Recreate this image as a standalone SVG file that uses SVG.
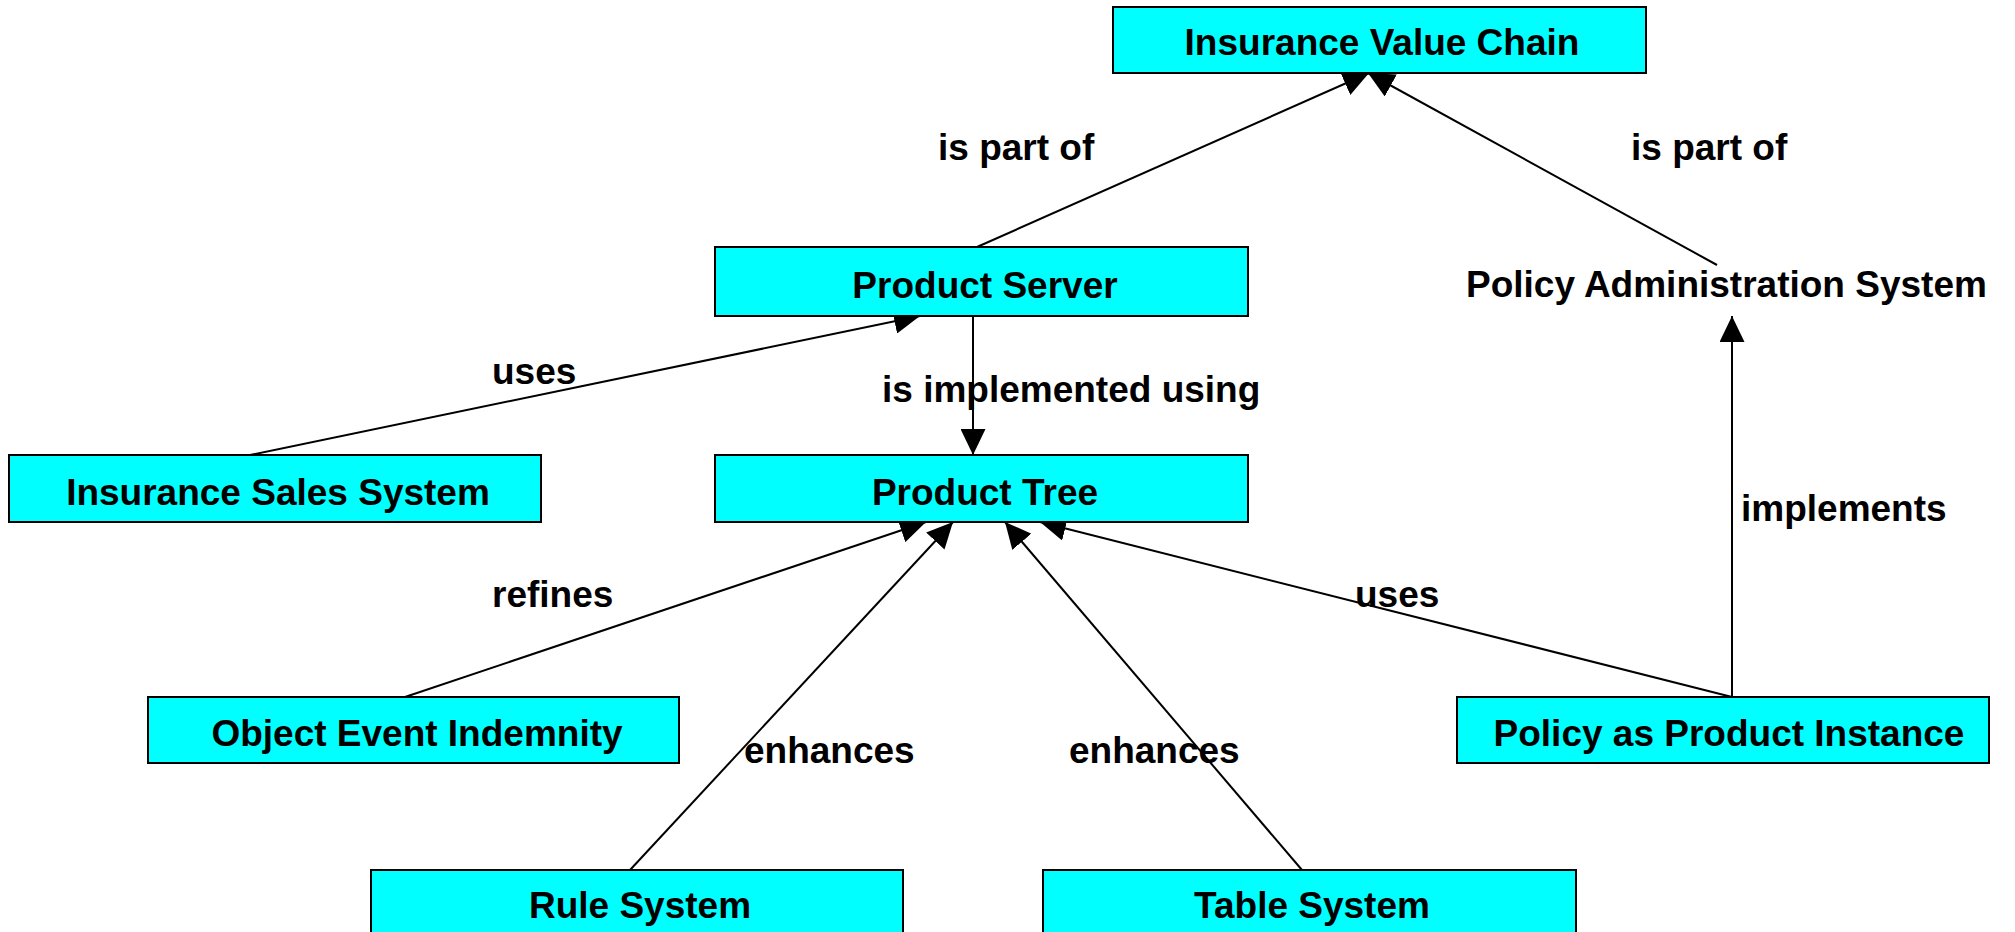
<svg xmlns="http://www.w3.org/2000/svg" width="2015" height="932" viewBox="0 0 2015 932">
<style>
.box{fill:#00FFFF;stroke:#000;stroke-width:2}
.t{font-family:"Liberation Sans",Arial,sans-serif;font-weight:bold;font-size:37px;fill:#000}
.c{text-anchor:middle}
.ln{stroke:#000;stroke-width:2;fill:none;marker-end:url(#ah)}
</style>
<defs>
<marker id="ah" markerUnits="userSpaceOnUse" markerWidth="26" markerHeight="25" refX="26" refY="12.5" orient="auto" viewBox="0 0 26 25">
<path d="M0,0 L26,12.5 L0,25 Z" fill="#000"/>
</marker>
</defs>
<rect width="2015" height="932" fill="#fff"/>
<g id="connectors">
<line class="ln" x1="977" y1="247" x2="1369" y2="73"/>
<line class="ln" x1="1717" y1="265" x2="1368" y2="73"/>
<line class="ln" x1="250" y1="455" x2="920" y2="316"/>
<line class="ln" x1="973" y1="316" x2="973" y2="455"/>
<line class="ln" x1="405" y1="697" x2="926" y2="522"/>
<line class="ln" x1="630" y1="870" x2="953" y2="522"/>
<line class="ln" x1="1302" y1="870" x2="1005" y2="522"/>
<line class="ln" x1="1732" y1="697" x2="1040" y2="522"/>
<line class="ln" x1="1732" y1="697" x2="1732" y2="316"/>
<text class="t" x="938" y="160">is part of</text>
<text class="t" x="1631" y="160">is part of</text>
<text class="t" x="492" y="384">uses</text>
<text class="t" x="882" y="402">is implemented using</text>
<text class="t" x="1741" y="521">implements</text>
<text class="t" x="492" y="607">refines</text>
<text class="t" x="1355" y="607">uses</text>
<text class="t" x="744" y="763">enhances</text>
<text class="t" x="1069" y="763">enhances</text>
</g>
<g id="node-ivc"><rect class="box" x="1113" y="7" width="533" height="66"/><text class="t c" x="1382" y="55">Insurance Value Chain</text></g>
<g id="node-ps"><rect class="box" x="715" y="247" width="533" height="69"/><text class="t c" x="985" y="298">Product Server</text></g>
<g id="node-pas"><text class="t" x="1466" y="297">Policy Administration System</text></g>
<g id="node-iss"><rect class="box" x="9" y="455" width="532" height="67"/><text class="t c" x="278" y="505">Insurance Sales System</text></g>
<g id="node-pt"><rect class="box" x="715" y="455" width="533" height="67"/><text class="t c" x="985" y="505">Product Tree</text></g>
<g id="node-oei"><rect class="box" x="148" y="697" width="531" height="66"/><text class="t c" x="417" y="746">Object Event Indemnity</text></g>
<g id="node-ppi"><rect class="box" x="1457" y="697" width="532" height="66"/><text class="t c" x="1729" y="746">Policy as Product Instance</text></g>
<g id="node-rs"><rect class="box" x="371" y="870" width="532" height="67"/><text class="t c" x="640" y="918">Rule System</text></g>
<g id="node-ts"><rect class="box" x="1043" y="870" width="533" height="67"/><text class="t c" x="1312" y="918">Table System</text></g>
</svg>
